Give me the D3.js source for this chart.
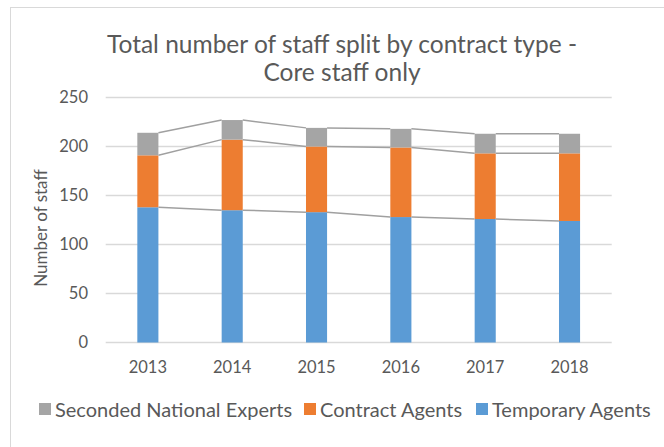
<!DOCTYPE html>
<html>
<head>
<meta charset="utf-8">
<script src="https://cdn.jsdelivr.net/npm/d3@7"></script>
<style>
    body { margin: 0; background: #fff; }
    svg { display: block; font-family: Lato, "Open Sans", sans-serif; }
</style>
</head>
<body>
<div id="chart"></div>
<script>
const years = ["2013", "2014", "2015", "2016", "2017", "2018"]
const temporaryAgents = [138, 135, 133, 128, 126, 124]
const contractAgents = [53, 72, 67, 71, 67, 69]
const secondedExperts = [23, 20, 19, 19, 20, 20]
const yTicks = [0, 50, 100, 150, 200, 250]

const seriesNames = ["Temporary Agents", "Contract Agents", "Seconded National Experts"]
const colors = {
    "Temporary Agents": "#5b9bd5",
    "Contract Agents": "#ed7d31",
    "Seconded National Experts": "#a5a5a5"
}

const width = 664, height = 447
const textColor = "#595959"

const rows = years.map((year, i) => ({
    year,
    "Temporary Agents": temporaryAgents[i],
    "Contract Agents": contractAgents[i],
    "Seconded National Experts": secondedExperts[i]
}))

const svg = d3.select("#chart")
    .append("svg")
        .attr("width", width)
        .attr("height", height)

// chart frame
svg.append("rect")
    .attr("x", 10.5).attr("y", 7.5)
    .attr("width", 700).attr("height", 460)
    .attr("fill", "none")
    .attr("stroke", "#d9d9d9")

const x = d3.scaleBand()
    .domain(years)
    .range([105.7, 611.7])
    .paddingInner(0.75)
    .paddingOuter(0.375)

const y = d3.scaleLinear()
    .domain([0, 250])
    .range([342.5, 97.5])

// gridlines
svg.append("g")
    .selectAll("line")
    .data(yTicks)
    .enter()
    .append("line")
    .attr("x1", 105.7).attr("x2", 611.7)
    .attr("y1", d => y(d)).attr("y2", d => y(d))
    .attr("stroke", "#d9d9d9")
    .attr("stroke-width", 1.3)

// y tick labels
svg.append("g")
    .selectAll("text")
    .data(yTicks)
    .enter()
    .append("text")
    .attr("x", 88)
    .attr("y", d => y(d))
    .attr("dy", "0.36em")
    .attr("text-anchor", "end")
    .attr("fill", textColor)
    .attr("font-size", 16.5)
    .text(d => d)

// x labels
svg.append("g")
    .selectAll("text")
    .data(years)
    .enter()
    .append("text")
    .attr("x", d => x(d) + x.bandwidth() / 2)
    .attr("y", 373)
    .attr("text-anchor", "middle")
    .attr("fill", textColor)
    .attr("font-size", 16.5)
    .text(d => d)

const stacked = d3.stack().keys(seriesNames)(rows)

// bars
svg.append("g")
    .selectAll("g")
    .data(stacked)
    .enter()
    .append("g")
    .attr("fill", d => colors[d.key])
    .selectAll("rect")
    .data(d => d)
    .enter()
    .append("rect")
    .attr("x", d => x(d.data.year))
    .attr("y", d => y(d[1]))
    .attr("width", x.bandwidth())
    .attr("height", d => y(d[0]) - y(d[1]))

// series lines joining the top of each segment
const seriesLines = []
stacked.forEach(layer => {
    for (let i = 0; i < layer.length - 1; i++) {
        seriesLines.push({ a: layer[i], b: layer[i + 1] })
    }
})
svg.append("g")
    .selectAll("line")
    .data(seriesLines)
    .enter()
    .append("line")
    .attr("x1", d => x(d.a.data.year) + x.bandwidth())
    .attr("y1", d => y(d.a[1]))
    .attr("x2", d => x(d.b.data.year))
    .attr("y2", d => y(d.b[1]))
    .attr("stroke", "#a0a0a0")
    .attr("stroke-width", 1.5)

// title
const title = svg.append("text")
    .attr("text-anchor", "middle")
    .attr("fill", textColor)
    .attr("font-size", 24.5)
title.append("tspan").attr("x", 342).attr("y", 53).text("Total number of staff split by contract type -")
title.append("tspan").attr("x", 342).attr("y", 81).text("Core staff only")

// axis title
svg.append("text")
    .attr("transform", "translate(47,228) rotate(-90)")
    .attr("text-anchor", "middle")
    .attr("fill", textColor)
    .attr("font-size", 17)
    .text("Number of staff")

// legend
const legendItems = ["Seconded National Experts", "Contract Agents", "Temporary Agents"]
const legendX = [39, 304, 476]
const legend = svg.append("g")
    .selectAll("g")
    .data(legendItems)
    .enter()
    .append("g")
    .attr("transform", (d, i) => `translate(${legendX[i]},403)`)

legend.append("rect")
    .attr("width", 12).attr("height", 12)
    .attr("fill", d => colors[d])

legend.append("text")
    .attr("x", 16)
    .attr("y", 13.5)
    .attr("fill", textColor)
    .attr("font-size", 20)
    .text(d => d)
</script>
</body>
</html>
